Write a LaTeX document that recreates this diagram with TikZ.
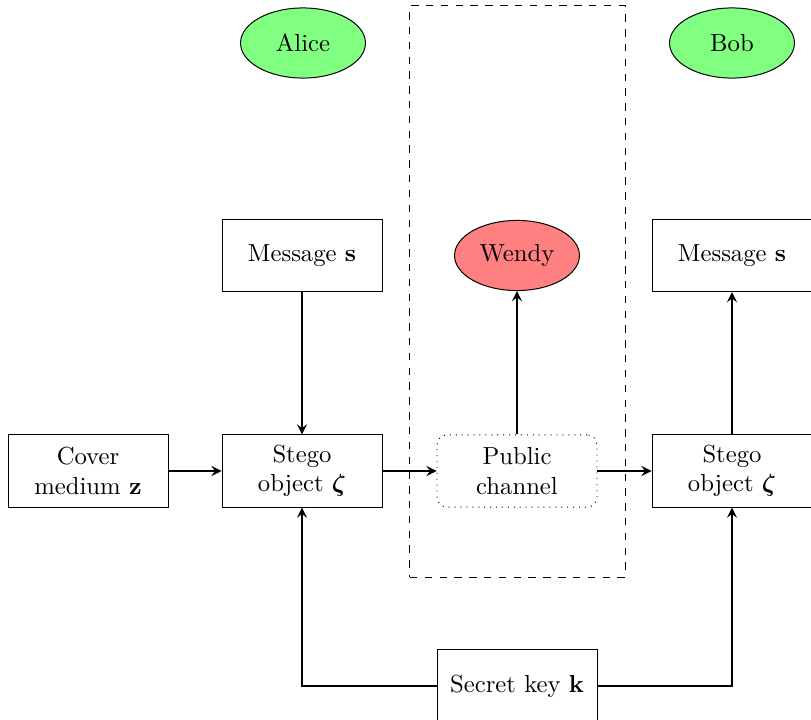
\documentclass[tikz,border=0pt]{standalone}
\usepackage{amsmath,bm}
\usetikzlibrary{shapes.geometric}
\begin{document}
\begin{tikzpicture}[x=0.405pt,y=-0.405pt,>=stealth,
  box/.style={draw, line width=0.4pt, minimum width=64.8pt, minimum height=29.2pt, align=center, inner sep=0pt},
  chan/.style={box, dotted, rounded corners=4pt},
  person/.style={draw, ellipse, line width=0.4pt, minimum width=50.6pt, minimum height=28.4pt, inner sep=0pt},
  good/.style={person, fill=green!50},
  bad/.style={person, fill=red!50},
  flow/.style={->, thick},
  region/.style={draw, dashed, line width=0.4pt}]
\useasboundingbox (0,0) rectangle (811,720);
% watcher region
\node[region, minimum width=87.1pt, minimum height=231.3pt, inner sep=0pt] (zone) at (517.5,291.5) {};
% people
\node[good] (alice) at (303,43) {Alice};
\node[good] (bob) at (732,43) {Bob};
\node[bad] (wendy) at (517,255.5) {Wendy};
% boxes
\node[box] (msgL) at (302,255.5) {Message $\mathbf{s}$};
\node[box] (msgR) at (732,255.5) {Message $\mathbf{s}$};
\node[box] (cover) at (88,471) {Cover\\medium $\mathbf{z}$};
\node[box] (stegoL) at (302,471) {Stego\\object $\bm{\zeta}$};
\node[chan] (pub) at (517,471) {Public\\channel};
\node[box] (stegoR) at (732,471) {Stego\\object $\bm{\zeta}$};
\node[box] (key) at (517,686) {Secret key $\mathbf{k}$};
% connectors
\draw[flow] (cover) -- (stegoL);
\draw[flow] (stegoL) -- (pub);
\draw[flow] (pub) -- (stegoR);
\draw[flow] (msgL) -- (stegoL);
\draw[flow] (pub) -- (wendy);
\draw[flow] (stegoR) -- (msgR);
\draw[flow] (key.west) -| (stegoL.south);
\draw[flow] (key.east) -| (stegoR.south);
\end{tikzpicture}
\end{document}
